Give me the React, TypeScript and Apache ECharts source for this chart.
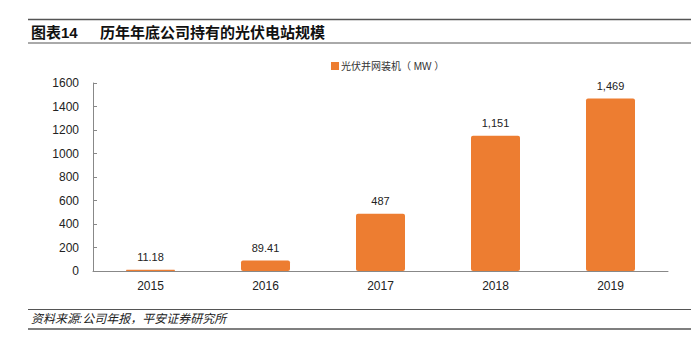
import React, { useEffect, useRef } from "react";
import * as echarts from "echarts";

const categories = ["2015", "2016", "2017", "2018", "2019"];
const values = [11.18, 89.41, 487, 1151, 1469];
const valueLabels = ["11.18", "89.41", "487", "1,151", "1,469"];
const seriesName = "光伏并网装机（ MW ）";
const titleNum = "图表14";
const titleText = "历年年底公司持有的光伏电站规模";
const sourceText = "资料来源:公司年报，平安证券研究所";

export default function App() {
  const ref = useRef<HTMLDivElement>(null);
  useEffect(() => {
    const chart = echarts.init(ref.current!, null, { renderer: "svg" });
    const font = "'Liberation Sans', 'Noto Sans CJK SC', sans-serif";
    chart.setOption({
      animation: false,
      textStyle: { fontFamily: font },
      legend: {
        top: 56,
        left: 326,
        itemWidth: 8,
        itemHeight: 8,
        itemGap: 4,
        icon: "rect",
        textStyle: { fontSize: 10, color: "#333", fontFamily: font, padding: [0, 0, 0, -3] },
        data: [seriesName],
      },
      grid: { left: 93, right: 23, top: 83, bottom: 85 },
      xAxis: {
        type: "category",
        data: categories,
        axisLine: { lineStyle: { color: "#888" } },
        axisTick: { inside: true, length: 4, lineStyle: { color: "#888" } },
        axisLabel: { fontSize: 12, color: "#222", margin: 9 },
      },
      yAxis: {
        type: "value",
        min: 0,
        max: 1600,
        interval: 200,
        axisLine: { show: true, lineStyle: { color: "#888" } },
        axisTick: { show: true, inside: true, length: 4, lineStyle: { color: "#888" } },
        axisLabel: { fontSize: 12, color: "#222", margin: 14, formatter: (v: number) => String(v) },
        splitLine: { show: false },
      },
      series: [
        {
          name: seriesName,
          type: "bar",
          data: values,
          barWidth: 49,
          itemStyle: { color: "#ED7D31", borderRadius: 2 },
          label: {
            show: true,
            position: "top",
            distance: 7,
            fontSize: 11,
            color: "#222",
            formatter: (p: any) => valueLabels[p.dataIndex],
          },
        },
      ],
      graphic: [
        { type: "line", shape: { x1: 28, y1: 19.5, x2: 691, y2: 19.5 }, style: { stroke: "#555", lineWidth: 1.5 } },
        { type: "line", shape: { x1: 28, y1: 43, x2: 691, y2: 43 }, style: { stroke: "#555", lineWidth: 1 } },
        {
          type: "text",
          x: 31,
          y: 32,
          style: { text: titleNum, fill: "#111", verticalAlign: "middle", font: `bold 15px ${font}` },
        },
        {
          type: "text",
          x: 100,
          y: 32,
          style: { text: titleText, fill: "#111", verticalAlign: "middle", font: `bold 15px ${font}` },
        },
        { type: "line", shape: { x1: 28, y1: 309.5, x2: 691, y2: 309.5 }, style: { stroke: "#555", lineWidth: 1 } },
        { type: "line", shape: { x1: 28, y1: 329, x2: 691, y2: 329 }, style: { stroke: "#555", lineWidth: 1.5 } },
        {
          type: "text",
          x: 31,
          y: 319,
          style: { text: sourceText, fill: "#222", verticalAlign: "middle", font: `italic 12px ${font}` },
        },
      ],
    });
    return () => chart.dispose();
  }, []);
  return (
    <div
      ref={ref}
      style={{ position: "fixed", left: 0, top: 0, width: 691, height: 356, background: "#fff" }}
    />
  );
}
